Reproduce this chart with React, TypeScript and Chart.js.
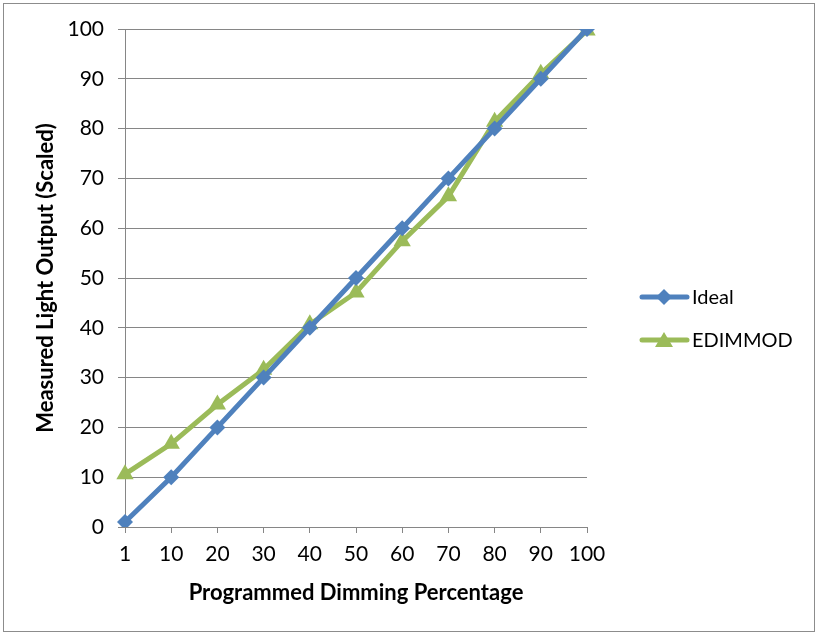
import { useEffect, useRef } from 'react'
import { Chart, registerables } from 'chart.js'

Chart.register(...registerables)

const CATEGORIES = ['1', '10', '20', '30', '40', '50', '60', '70', '80', '90', '100']
const IDEAL = [1, 10, 20, 30, 40, 50, 60, 70, 80, 90, 100]
const EDIMMOD = [10.6, 16.7, 24.6, 31.6, 40.7, 47.1, 57.4, 66.4, 81.4, 91, 99.7]

const BLUE = '#4f81bd'
const GREEN = '#9bbb59'
const GRID = '#868686'
const FONT = 'Lato, "Open Sans", sans-serif'

// Excel-style legend: line segment with marker in the middle
const legendPlugin = {
  id: 'excelLegend',
  afterDraw(chart: Chart) {
    const ctx = chart.ctx
    const rows = [297, 340]
    chart.data.datasets.forEach((ds: any, i: number) => {
      const y = rows[i]
      ctx.save()
      ctx.strokeStyle = ds.borderColor
      ctx.lineWidth = 5
      ctx.lineCap = 'round'
      ctx.beginPath()
      ctx.moveTo(642, y)
      ctx.lineTo(687, y)
      ctx.stroke()
      ctx.restore()
      ctx.save()
      ctx.fillStyle = ds.borderColor
      ctx.beginPath()
      if (ds.pointStyle === 'triangle') {
        ctx.moveTo(664, y - 8)
        ctx.lineTo(673, y + 7)
        ctx.lineTo(655, y + 7)
      } else {
        ctx.moveTo(664, y - 8)
        ctx.lineTo(672, y)
        ctx.lineTo(664, y + 8)
        ctx.lineTo(656, y)
      }
      ctx.closePath()
      ctx.fill()
      ctx.fillStyle = '#000'
      ctx.font = `20px ${FONT}`
      ctx.textBaseline = 'middle'
      ctx.textAlign = 'left'
      ctx.fillText(ds.label, 692, y + 1)
      ctx.restore()
    })
  },
}

export default function App() {
  const canvasRef = useRef<HTMLCanvasElement>(null)
  const chartRef = useRef<Chart | null>(null)

  useEffect(() => {
    chartRef.current?.destroy()
    if (!canvasRef.current) return

    chartRef.current = new Chart(canvasRef.current, {
      type: 'line',
      data: {
        labels: CATEGORIES,
        datasets: [
          {
            label: 'Ideal',
            data: IDEAL,
            borderColor: BLUE,
            backgroundColor: BLUE,
            borderWidth: 5,
            pointStyle: 'rectRot',
            pointRadius: 8,
            pointBorderWidth: 0,
          },
          {
            label: 'EDIMMOD',
            data: EDIMMOD,
            borderColor: GREEN,
            backgroundColor: GREEN,
            borderWidth: 5,
            pointStyle: 'triangle',
            pointRadius: 10,
            pointBorderWidth: 0,
          },
        ],
      },
      options: {
        animation: false,
        responsive: true,
        maintainAspectRatio: false,
        layout: { padding: { top: 29, left: 10, right: 232, bottom: 10 } },
        plugins: {
          legend: { display: false },
          tooltip: { enabled: false },
        },
        scales: {
          x: {
            offset: false,
            grid: {
              drawOnChartArea: false,
              drawTicks: true,
              tickLength: 6,
              color: GRID,
            },
            border: { display: true, color: GRID, width: 1 },
            ticks: { color: '#000', font: { family: FONT, size: 21 }, padding: 9, maxRotation: 0 },
            title: {
              display: true,
              text: 'Programmed Dimming Percentage',
              color: '#000',
              font: { family: FONT, size: 22, weight: 'bold' },
              padding: { top: 0, bottom: 19 },
            },
            afterFit: (scale: any) => {
              scale.height = 98
            },
          },
          y: {
            min: 0,
            max: 100,
            ticks: { stepSize: 10, color: '#000', font: { family: FONT, size: 21 }, padding: 14 },
            grid: { color: GRID, tickLength: 7 },
            border: { display: true, color: GRID, width: 1 },
            title: {
              display: true,
              text: 'Measured Light Output (Scaled)',
              color: '#000',
              font: { family: FONT, size: 22, weight: 'bold' },
              padding: { top: 23, bottom: 0 },
            },
            afterFit: (scale: any) => {
              scale.width = 115
            },
          },
        },
      },
      plugins: [legendPlugin],
    })

    return () => {
      chartRef.current?.destroy()
      chartRef.current = null
    }
  }, [])

  return (
    <div style={{ position: 'fixed', left: 0, top: 0, width: 819, height: 635, background: '#fff' }}>
      <div
        style={{
          position: 'absolute',
          left: 3,
          top: 3,
          width: 812,
          height: 629,
          border: '1px solid #8c8c8c',
          boxSizing: 'border-box',
        }}
      />
      <div style={{ position: 'absolute', left: 0, top: 0, width: 819, height: 635 }}>
        <canvas ref={canvasRef} />
      </div>
    </div>
  )
}
